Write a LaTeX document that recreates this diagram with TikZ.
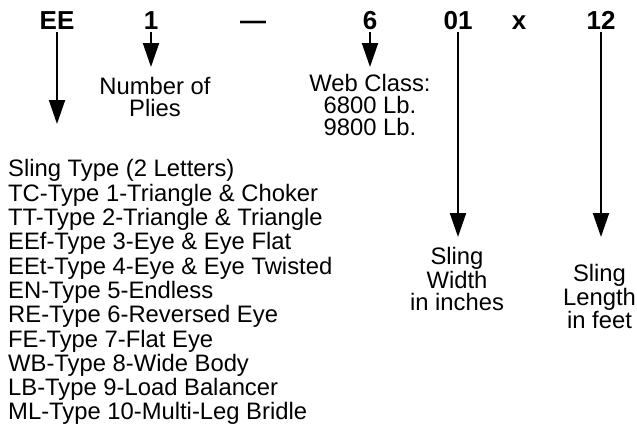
\documentclass[tikz,border=0pt]{standalone}
\usepackage{fontspec}
\setmainfont{Liberation Sans}
\usetikzlibrary{arrows.meta,positioning}

\begin{document}
\begin{tikzpicture}[x=1pt,y=-1pt,>={Triangle[length=24pt,width=16pt]},
  hdr/.style={inner sep=3pt,anchor=base,font=\fontsize{26}{28}\selectfont\bfseries},
  lbl/.style={inner sep=0pt,anchor=north,align=center,font=\fontsize{23.8}{22}\selectfont},
  arr/.style={line width=2pt,->}]
  \useasboundingbox (0,0) rectangle (637,431);
  % part number
  \node[hdr] (ee) at (57,29) {EE};
  \node[hdr] (plies) at (151,29) {1};
  \node[hdr] (dash) at (253,29) {—};
  \node[hdr] (web) at (370,29) {6};
  \node[hdr] (wd) at (458,29) {01};
  \node[hdr] (times) at (519,29) {x};
  \node[hdr] (len) at (601,29) {12};
  % explanations
  \node[lbl] (pliestxt) at (155,77.5) {Number of\\Plies};
  \node[lbl] (webtxt) at (370,74.5) {Web Class:\\6800 Lb.\\9800 Lb.};
  \node[lbl,anchor=north west,align=left,font=\fontsize{23.8}{24.3}\selectfont] (types) at (8,159.5)
    {Sling Type (2 Letters)\\
     TC-Type 1-Triangle \& Choker\\
     TT-Type 2-Triangle \& Triangle\\
     EEf-Type 3-Eye \& Eye Flat\\
     EEt-Type 4-Eye \& Eye Twisted\\
     EN-Type 5-Endless\\
     RE-Type 6-Reversed Eye\\
     FE-Type 7-Flat Eye\\
     WB-Type 8-Wide Body\\
     LB-Type 9-Load Balancer\\
     ML-Type 10-Multi-Leg Bridle};
  \node[lbl] (wdtxt) at (457,247.5) {Sling\\Width\\in inches};
  \node[lbl] (lentxt) at (599.5,264.5) {Sling\\Length\\in feet};
  % arrows
  \draw[arr,shorten >=35.5pt] (ee.south) -- (ee.south |- types.north);
  \draw[arr,shorten >=10.5pt] (plies.south) -- (plies.south |- pliestxt.north);
  \draw[arr,shorten >=7.5pt] (web.south) -- (web.south |- webtxt.north);
  \draw[arr,shorten >=10.5pt] (wd.south) -- (wd.south |- wdtxt.north);
  \draw[arr,shorten >=27.5pt] (len.south) -- (len.south |- lentxt.north);
\end{tikzpicture}
\end{document}
